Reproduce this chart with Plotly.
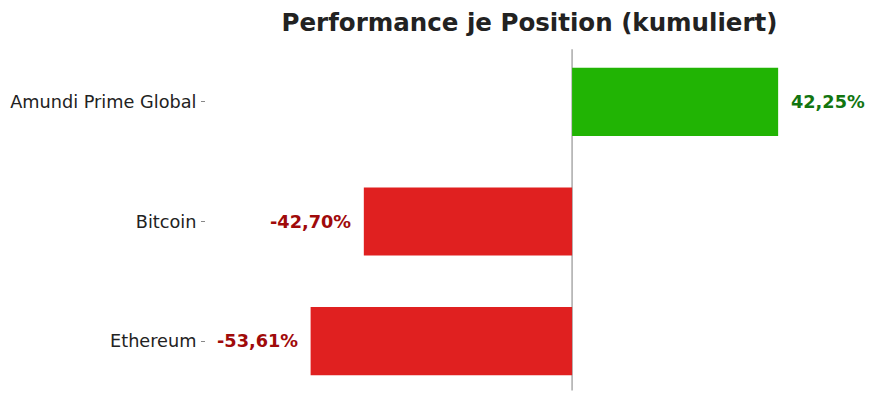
import plotly.graph_objects as go

# Data
positions = ["Amundi Prime Global", "Bitcoin", "Ethereum"]
performance = [42.25, -42.70, -53.61]
value_labels = ["42,25%", "-42,70%", "-53,61%"]

green = "#21b404"
red = "#e02020"
green_text = "#127510"
red_text = "#a00a0a"

bar_colors = [green if v >= 0 else red for v in performance]
text_colors = [green_text if v >= 0 else red_text for v in performance]

fig = go.Figure()

fig.add_trace(go.Bar(
    x=performance,
    y=positions,
    orientation="h",
    marker=dict(color=bar_colors, line=dict(width=0)),
    showlegend=False,
    hoverinfo="skip",
))

# value labels next to the bars
for name, v, lab, col in zip(positions, performance, value_labels, text_colors):
    fig.add_annotation(
        x=v, y=name, text="<b>" + lab + "</b>",
        showarrow=False,
        xanchor="left" if v >= 0 else "right",
        xshift=11 if v >= 0 else -11,
        font=dict(size=17.7, color=col, family="DejaVu Sans"),
    )

# zero line behind the bars
fig.add_shape(
    type="line", xref="x", yref="paper",
    x0=0, x1=0, y0=0.029, y1=0.98,
    line=dict(color="#aaaaaa", width=1.5),
    layer="below",
)

fig.update_layout(
    width=875,
    height=401,
    margin=dict(l=198, r=30, t=34, b=8, autoexpand=False),
    paper_bgcolor="white",
    plot_bgcolor="white",
    font=dict(family="DejaVu Sans", color="#222222"),
    title=dict(
        text="<b>Performance je Position (kumuliert)</b>",
        x=0.5, xref="paper", xanchor="center",
        y=0.965, yref="container", yanchor="middle",
        font=dict(size=24.5, color="#222222"),
    ),
    bargap=0.43,
    xaxis=dict(
        range=[-75.06, 57.6],
        visible=False,
        showgrid=False,
        zeroline=False,
    ),
    yaxis=dict(
        autorange="reversed",
        automargin=False,
        showgrid=False,
        zeroline=False,
        showline=False,
        ticks="outside",
        ticklen=4,
        tickcolor="#888888",
        ticklabelstandoff=1,
        tickfont=dict(size=17.7, color="#222222"),
    ),
)

fig.write_html("out.html")
